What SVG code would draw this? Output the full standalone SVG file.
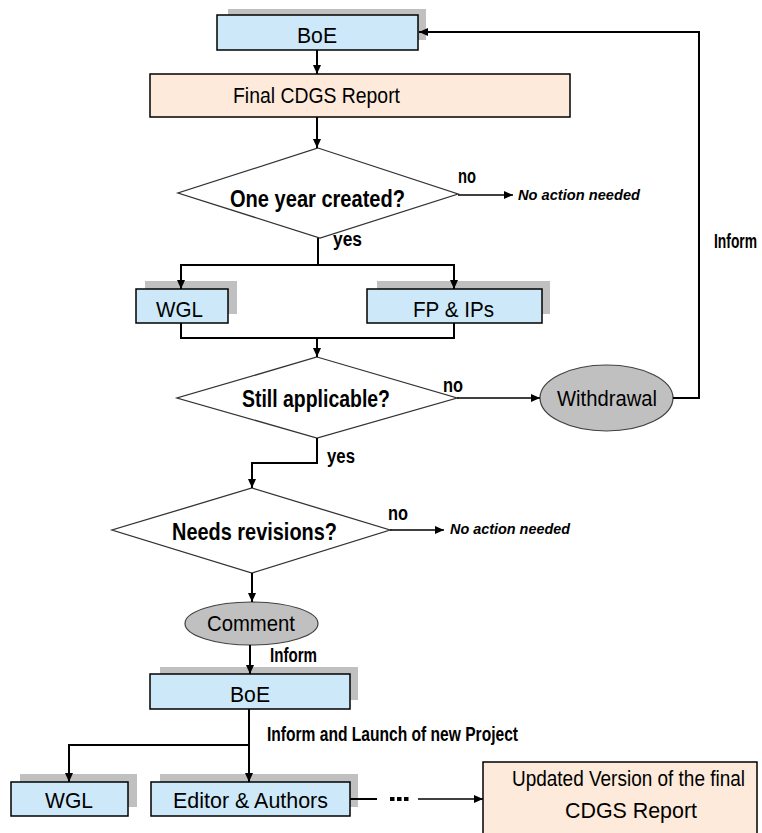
<svg xmlns="http://www.w3.org/2000/svg" width="762" height="833" viewBox="0 0 762 833">
  <defs>
    <marker id="arrow" markerUnits="userSpaceOnUse" markerWidth="10" markerHeight="8" refX="9" refY="4" orient="auto">
      <path d="M0,0 L9,4 L0,8 z" fill="#000"/>
    </marker>
    <style>
      .shadow { fill: #c0c0c0; }
      .box { fill: #cde9f9; stroke: #000; stroke-width: 1.5; }
      .report { fill: #fdeada; stroke: #000; stroke-width: 1.5; }
      .decision { fill: #fff; stroke: #333; stroke-width: 1.3; }
      .terminal { fill: #c0c0c0; stroke: #404040; stroke-width: 1.2; }
      .wire { fill: none; stroke: #000; stroke-width: 2; }
      .thin { fill: none; stroke: #000; stroke-width: 1.3; }
      text { font-family: "Liberation Sans", Arial, sans-serif; fill: #000; }
      .lbl { font-size: 22px; }
      .q { font-size: 24px; font-weight: bold; }
      .tag { font-size: 20px; font-weight: bold; }
      .note { font-size: 15px; font-weight: bold; font-style: italic; }
    </style>
  </defs>

  <!-- nodes -->
  <g id="boe-top">
    <rect class="shadow" x="228" y="9" width="198" height="31"/>
    <rect class="box" x="217" y="15" width="201" height="35"/>
    <text class="lbl" x="297" y="43" textLength="40" lengthAdjust="spacingAndGlyphs">BoE</text>
  </g>

  <g id="final-report">
    <rect class="report" x="150" y="74" width="420" height="43"/>
    <text class="lbl" x="233" y="103" textLength="167" lengthAdjust="spacingAndGlyphs">Final CDGS Report</text>
  </g>

  <g id="one-year">
    <polygon class="decision" points="318,148 458,194 320,238 178,193"/>
    <text class="q" x="230" y="207" textLength="175" lengthAdjust="spacingAndGlyphs">One year created?</text>
  </g>

  <g id="wgl-top">
    <rect class="shadow" x="145" y="281" width="92" height="33"/>
    <rect class="box" x="136" y="289" width="92" height="34"/>
    <text class="lbl" x="156" y="317" textLength="47" lengthAdjust="spacingAndGlyphs">WGL</text>
  </g>

  <g id="fp-ips">
    <rect class="shadow" x="377" y="281" width="173" height="33"/>
    <rect class="box" x="367" y="289" width="175" height="34"/>
    <text class="lbl" x="413" y="317" textLength="81" lengthAdjust="spacingAndGlyphs">FP &amp; IPs</text>
  </g>

  <g id="still-applicable">
    <polygon class="decision" points="317,357 457,398 317,438 177,398"/>
    <text class="q" x="242" y="407" textLength="148" lengthAdjust="spacingAndGlyphs">Still applicable?</text>
  </g>

  <g id="withdrawal">
    <ellipse class="terminal" cx="606.5" cy="398" rx="66.5" ry="33"/>
    <text class="lbl" x="557" y="406" textLength="100" lengthAdjust="spacingAndGlyphs">Withdrawal</text>
  </g>

  <g id="needs-revisions">
    <polygon class="decision" points="252,488 390,530 252,573 112,530"/>
    <text class="q" x="172" y="540" textLength="165" lengthAdjust="spacingAndGlyphs">Needs revisions?</text>
  </g>

  <g id="comment">
    <ellipse class="terminal" cx="251.5" cy="623.5" rx="66.5" ry="21.5"/>
    <text class="lbl" x="207" y="631" font-size="21" textLength="88" lengthAdjust="spacingAndGlyphs">Comment</text>
  </g>

  <g id="boe-bottom">
    <rect class="shadow" x="160" y="667" width="198" height="33"/>
    <rect class="box" x="150" y="674" width="200" height="35"/>
    <text class="lbl" x="230" y="702" textLength="40" lengthAdjust="spacingAndGlyphs">BoE</text>
  </g>

  <g id="wgl-bottom">
    <rect class="shadow" x="20" y="774" width="117" height="33"/>
    <rect class="box" x="11" y="782" width="117" height="34"/>
    <text class="lbl" x="45" y="808" textLength="48" lengthAdjust="spacingAndGlyphs">WGL</text>
  </g>

  <g id="editor-authors">
    <rect class="shadow" x="160" y="774" width="198" height="33"/>
    <rect class="box" x="151" y="782" width="199" height="34"/>
    <text class="lbl" x="173" y="808" textLength="155" lengthAdjust="spacingAndGlyphs">Editor &amp; Authors</text>
  </g>

  <g id="updated-report">
    <rect class="report" x="483" y="762" width="274" height="72"/>
    <text class="lbl" x="512" y="786" font-size="19" textLength="233" lengthAdjust="spacingAndGlyphs">Updated Version of the final</text>
    <text class="lbl" x="565" y="818" textLength="132" lengthAdjust="spacingAndGlyphs">CDGS Report</text>
  </g>

  <!-- connectors, drawn last so arrowheads sit over the box shadows -->
  <g id="connectors">
    <line class="wire" x1="317" y1="50" x2="317" y2="74" marker-end="url(#arrow)"/>
    <line class="wire" x1="317" y1="117" x2="317" y2="148" marker-end="url(#arrow)"/>
    <line class="thin" x1="458" y1="195" x2="513" y2="195" marker-end="url(#arrow)"/>
    <line class="wire" x1="318" y1="238" x2="318" y2="265"/>
    <polyline class="wire" points="318,265 181,265 181,289" marker-end="url(#arrow)"/>
    <polyline class="wire" points="318,265 454,265 454,289" marker-end="url(#arrow)"/>
    <polyline class="wire" points="181,323 181,338 454,338 454,323"/>
    <line class="wire" x1="317" y1="338" x2="317" y2="357" marker-end="url(#arrow)"/>
    <line class="thin" x1="457" y1="398" x2="540" y2="398" marker-end="url(#arrow)"/>
    <polyline class="wire" points="673,398 699,398 699,32 419,32" marker-end="url(#arrow)"/>
    <polyline class="wire" points="317,438 317,463 252,463 252,488" marker-end="url(#arrow)"/>
    <line class="thin" x1="390" y1="530" x2="444" y2="530" marker-end="url(#arrow)"/>
    <line class="wire" x1="252" y1="573" x2="252" y2="602" marker-end="url(#arrow)"/>
    <line class="wire" x1="250" y1="645" x2="250" y2="674" marker-end="url(#arrow)"/>
    <line class="wire" x1="249" y1="709" x2="249" y2="782" marker-end="url(#arrow)"/>
    <polyline class="wire" points="249,745 69,745 69,782" marker-end="url(#arrow)"/>
    <line class="wire" x1="350" y1="799" x2="377" y2="799"/>
    <line x1="390" y1="799" x2="409" y2="799" stroke="#000" stroke-width="4" stroke-dasharray="4.5 2.5"/>
    <line class="thin" x1="418" y1="799" x2="483" y2="799" marker-end="url(#arrow)"/>

    <!-- connector labels -->
    <text class="tag" x="458" y="183" textLength="18" lengthAdjust="spacingAndGlyphs">no</text>
    <text class="note" x="518" y="200" textLength="122" lengthAdjust="spacingAndGlyphs">No action needed</text>
    <text class="tag" x="333" y="246" textLength="29" lengthAdjust="spacingAndGlyphs">yes</text>
    <text class="tag" x="443" y="392" textLength="20" lengthAdjust="spacingAndGlyphs">no</text>
    <text class="tag" x="714" y="248" font-size="14.5" textLength="43" lengthAdjust="spacingAndGlyphs">Inform</text>
    <text class="tag" x="327" y="463" textLength="28" lengthAdjust="spacingAndGlyphs">yes</text>
    <text class="tag" x="388" y="520" textLength="20" lengthAdjust="spacingAndGlyphs">no</text>
    <text class="note" x="450" y="534" textLength="120" lengthAdjust="spacingAndGlyphs">No action needed</text>
    <text class="tag" x="270" y="662" textLength="47" lengthAdjust="spacingAndGlyphs">Inform</text>
    <text class="tag" x="267" y="741" font-size="17" textLength="251" lengthAdjust="spacingAndGlyphs">Inform and Launch of new Project</text>
  </g>
</svg>
